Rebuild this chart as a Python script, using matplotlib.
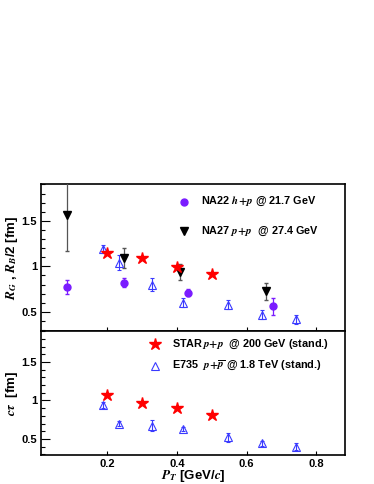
import matplotlib
matplotlib.use("Agg")
import matplotlib.pyplot as plt
from matplotlib.ticker import MultipleLocator, FormatStrFormatter

plt.rcParams['font.family'] = ['Liberation Sans', 'DejaVu Sans']
plt.rcParams['font.weight'] = 'bold'
plt.rcParams['mathtext.fontset'] = 'stix'

# ---- data (top panel: R_G, R_B/2) ----
na22_pt = [0.083, 0.247, 0.431, 0.675]
na22_r = [0.775, 0.82, 0.71, 0.56]
na22_err = [0.08, 0.05, 0.04, 0.09]

na27_pt = [0.083, 0.247, 0.41, 0.655]
na27_r = [1.56, 1.09, 0.94, 0.725]
na27_err = [0.39, 0.11, 0.09, 0.09]

star_pt = [0.2, 0.3, 0.4, 0.5]
star_r = [1.15, 1.09, 0.99, 0.92]
star_ct = [1.07, 0.97, 0.90, 0.81]

e735_pt = [0.186, 0.233, 0.327, 0.418, 0.546, 0.645, 0.741]
e735_r = [1.19, 1.04, 0.80, 0.60, 0.58, 0.47, 0.42]
e735_r_err = [0.04, 0.08, 0.07, 0.05, 0.05, 0.05, 0.05]
e735_ct = [0.94, 0.70, 0.67, 0.63, 0.52, 0.44, 0.40]
e735_ct_err = [0.04, 0.03, 0.07, 0.03, 0.06, 0.03, 0.05]

xticks = [0.2, 0.4, 0.6, 0.8]
yticks = [0.5, 1.0, 1.5]

violet = '#7a1cff'
blue = '#3a3aff'

fig = plt.figure(figsize=(3.74, 4.84), dpi=100)
ax1 = fig.add_axes([0.1104, 0.3161, 0.8121, 0.3037])
ax2 = fig.add_axes([0.1104, 0.0599, 0.8121, 0.2562])

for ax in (ax1, ax2):
    ax.set_xlim(0.01, 0.883)
    ax.set_ylim(0.29, 1.905)
    ax.set_xticks(xticks)
    ax.set_yticks(yticks)
    ax.yaxis.set_minor_locator(MultipleLocator(0.1))
    ax.yaxis.set_major_formatter(FormatStrFormatter('%g'))
    ax.xaxis.set_major_formatter(FormatStrFormatter('%g'))
    ax.tick_params(axis='y', which='major', direction='in', length=6.5, width=0.8,
                   labelsize=8, pad=3)
    ax.tick_params(axis='y', which='minor', direction='in', length=3.2, width=0.8)
    ax.tick_params(axis='x', which='major', direction='in', length=3, width=0.8,
                   labelsize=8, pad=3)
    for lab in ax.get_xticklabels() + ax.get_yticklabels():
        lab.set_fontweight('bold')
    for s in ax.spines.values():
        s.set_linewidth(1.2)
ax1.tick_params(axis='x', labelbottom=False)

# top panel
ax1.errorbar(na27_pt, na27_r, yerr=na27_err, fmt='v', color='black', ecolor='#555555',
             ms=5.5, elinewidth=0.9, capsize=1.5, zorder=3)
ax1.errorbar(e735_pt, e735_r, yerr=e735_r_err, fmt='^', mfc='none', mec=blue, ecolor=blue,
             ms=6, mew=0.8, elinewidth=0.8, capsize=1.2, zorder=3)
ax1.plot(star_pt, star_r, '*', color='red', ms=9, zorder=4)
ax1.errorbar(na22_pt, na22_r, yerr=na22_err, fmt='o', color=violet, ecolor=violet,
             ms=5, elinewidth=0.9, capsize=1.2, zorder=4)

# bottom panel
ax2.errorbar(e735_pt, e735_ct, yerr=e735_ct_err, fmt='^', mfc='none', mec=blue, ecolor=blue,
             ms=6, mew=0.8, elinewidth=0.8, capsize=1.2, zorder=3)
ax2.plot(star_pt, star_ct, '*', color='red', ms=9, zorder=4)

# legends
fs_leg = 7.8
ax1.plot([0.47], [0.88], 'o', color=violet, ms=5, transform=ax1.transAxes, clip_on=False)
ax1.text(0.525, 0.88, r'NA22 $h\!+\!p$ @ 21.7 GeV', transform=ax1.transAxes,
         fontsize=fs_leg, va='center', ha='left', fontweight='bold')
ax1.plot([0.47], [0.68], 'v', color='black', ms=5.5, transform=ax1.transAxes, clip_on=False)
ax1.text(0.525, 0.68, r'NA27 $p\!+\!p$  @ 27.4 GeV', transform=ax1.transAxes,
         fontsize=fs_leg, va='center', ha='left', fontweight='bold')

ax2.plot([0.374], [0.895], '*', color='red', ms=9, transform=ax2.transAxes, clip_on=False)
ax2.text(0.43, 0.895, r'STAR$\,p\!+\!p$  @ 200 GeV (stand.)', transform=ax2.transAxes,
         fontsize=fs_leg, va='center', ha='left', fontweight='bold')
ax2.plot([0.374], [0.72], '^', mfc='none', mec=blue, mew=0.8, ms=6, transform=ax2.transAxes,
         clip_on=False)
ax2.text(0.43, 0.72, r'E735  $p\!+\!\overline{p}$ @ 1.8 TeV (stand.)', transform=ax2.transAxes,
         fontsize=fs_leg, va='center', ha='left', fontweight='bold')

ax1.set_ylabel(r'$R_G$ , $R_B$/2 [fm]', fontsize=9.5, fontweight='bold')
ax2.set_ylabel(r'$c\tau$  [fm]', fontsize=9.5, fontweight='bold')
ax2.set_xlabel(r'$P_T$ [GeV/$c$]', fontsize=9.5, fontweight='bold', labelpad=-1)
ax1.yaxis.set_label_coords(-0.07, 0.5)
ax2.yaxis.set_label_coords(-0.07, 0.5)

fig.savefig('out.png', dpi=100)
